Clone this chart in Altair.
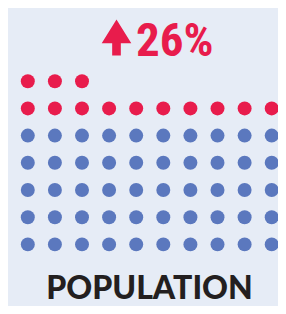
import altair as alt
import pandas as pd

# ---- data ----
groups = ["before", "increase"]
group_counts = [50, 13]
dots_per_row = [10]
change_text = ["26%"]
label_text = ["POPULATION"]
group_colors = ["#5b78be", "#e81c4c"]

BG = "#e6ecf6"
RED = group_colors[1]

rows = []
n = 0
for g, c in zip(groups, group_counts):
    for _ in range(c):
        rows.append({"group": g, "col": n % dots_per_row[0], "row": n // dots_per_row[0]})
        n += 1
dots_df = pd.DataFrame(rows)

W, H = 270, 298

dots = alt.Chart(dots_df).mark_circle(size=195, opacity=1).encode(
    x=alt.X("col:Q", scale=alt.Scale(domain=[-0.7306, 9.232], nice=False, zero=False), axis=None),
    y=alt.Y("row:Q", scale=alt.Scale(domain=[-2.265, 8.691], nice=False, zero=False), axis=None),
    color=alt.Color("group:N", scale=alt.Scale(domain=groups, range=group_colors), legend=None),
)

arrow_path = "M0,-1 L0.82,0.32 L0.24,0.32 L0.24,1 L-0.24,1 L-0.24,0.32 L-0.82,0.32 Z"
arrow = alt.Chart(pd.DataFrame({"t": change_text})).mark_point(
    shape=arrow_path, filled=True, size=1300, color=RED, opacity=1, strokeWidth=0
).encode(x=alt.value(108.5), y=alt.value(29.5))

pct = alt.Chart(pd.DataFrame({"t": change_text})).mark_text(
    font="Roboto Condensed, Liberation Sans Narrow, DejaVu Sans Condensed", fontWeight="bold", fontSize=47,
    color=RED, align="left", baseline="alphabetic"
).encode(x=alt.value(128), y=alt.value(47.5), text="t:N")

lab = alt.Chart(pd.DataFrame({"t": label_text})).mark_text(
    font="Lato", fontWeight=900, fontSize=32, color="#231f20",
    align="center", baseline="alphabetic"
).encode(x=alt.value(141.5), y=alt.value(290.5), text="t:N")

chart = alt.layer(dots, arrow, pct, lab).properties(
    width=W, height=H,
    autosize=alt.AutoSizeParams(type="none"),
    padding=0,
    background=BG,
).configure_view(stroke=None)

chart.save("out.html", embed_options={"renderer": "svg", "actions": False})
